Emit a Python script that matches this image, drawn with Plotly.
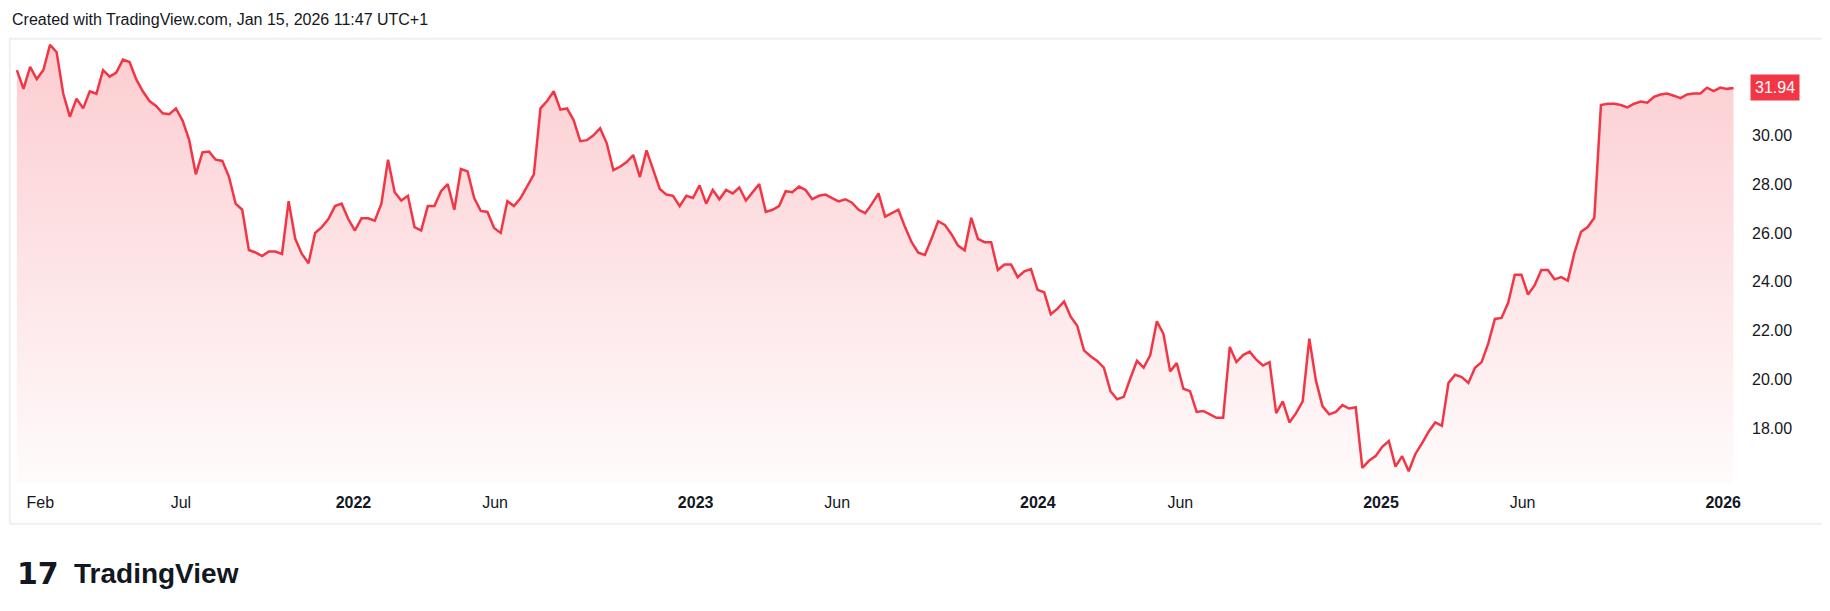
import pandas as pd
import plotly.graph_objects as go

# weekly closes, Jan 2021 .. Jan 2026
values = [
    32.67, 31.9, 32.8, 32.3, 32.67, 33.7, 33.4, 31.7, 30.76, 31.5, 31.1, 31.8, 31.7, 32.67,
    32.4, 32.57, 33.1, 33.0, 32.3, 31.8, 31.4, 31.2, 30.9, 30.86, 31.1, 30.6, 29.8, 28.4,
    29.3, 29.33, 29.0, 28.95, 28.3, 27.2, 26.95, 25.3, 25.2, 25.05, 25.24, 25.24, 25.14,
    27.3, 25.76, 25.14, 24.76, 26.0, 26.24, 26.57, 27.1, 27.2, 26.57, 26.1, 26.6, 26.6,
    26.5, 27.2, 29.0, 27.67, 27.33, 27.52, 26.24, 26.1, 27.1, 27.1, 27.71, 28.0, 26.95,
    28.62, 28.52, 27.43, 26.9, 26.86, 26.2, 26.0, 27.3, 27.1, 27.43, 27.9, 28.4, 31.1,
    31.4, 31.8, 31.05, 31.1, 30.62, 29.76, 29.8, 30.0, 30.29, 29.67, 28.57, 28.71, 28.9,
    29.19, 28.29, 29.38, 28.62, 27.8, 27.57, 27.52, 27.1, 27.52, 27.43, 27.95, 27.2, 27.76,
    27.38, 27.76, 27.62, 27.86, 27.33, 27.67, 28.0, 26.86, 26.95, 27.1, 27.71, 27.67, 27.9,
    27.76, 27.38, 27.52, 27.57, 27.43, 27.29, 27.38, 27.24, 26.95, 26.81, 27.19, 27.62,
    26.67, 26.81, 26.95, 26.24, 25.62, 25.19, 25.1, 25.76, 26.48, 26.33, 25.95, 25.48,
    25.29, 26.62, 25.76, 25.62, 25.62, 24.48, 24.71, 24.71, 24.19, 24.43, 24.52, 23.67,
    23.57, 22.67, 22.9, 23.19, 22.57, 22.19, 21.19, 20.95, 20.76, 20.48, 19.52, 19.19,
    19.29, 20.05, 20.76, 20.48, 21.0, 22.38, 21.86, 20.33, 20.67, 19.62, 19.52, 18.67,
    18.71, 18.57, 18.43, 18.43, 21.33, 20.71, 21.0, 21.14, 20.81, 20.57, 20.71, 18.62,
    19.1, 18.24, 18.62, 19.1, 21.67, 19.95, 18.9, 18.57, 18.67, 18.95, 18.81, 18.86,
    16.38, 16.67, 16.86, 17.24, 17.48, 16.43, 16.86, 16.24, 16.95, 17.38, 17.86, 18.24,
    18.1, 19.86, 20.19, 20.1, 19.86, 20.48, 20.71, 21.48, 22.48, 22.52, 23.14, 24.29,
    24.29, 23.48, 23.86, 24.48, 24.48, 24.1, 24.19, 24.05, 25.19, 26.05, 26.24, 26.62,
    31.24, 31.29, 31.29, 31.24, 31.14, 31.29, 31.38, 31.33, 31.57, 31.67, 31.71, 31.62,
    31.52, 31.67, 31.71, 31.71, 31.95, 31.81, 31.95, 31.9, 31.94,
]
dates = pd.date_range("2021-01-07", "2026-01-12", periods=len(values))
last_price = "31.94"

tick_dates = ["2021-02-01", "2021-07-01", "2022-01-01", "2022-06-01", "2023-01-01",
              "2023-06-01", "2024-01-01", "2024-06-01", "2025-01-01", "2025-06-01", "2026-01-01"]
tick_text = ["Feb", "Jul", "<b>2022</b>", "Jun", "<b>2023</b>", "Jun", "<b>2024</b>", "Jun",
             "<b>2025</b>", "Jun", "<b>2026</b>"]
y_ticks = [18, 20, 22, 24, 26, 28, 30]

RED = "#f23645"
y_lo, y_hi = 15.76, 33.86

fig = go.Figure()
fig.add_trace(go.Scatter(x=dates, y=[y_lo] * len(values), mode="lines",
                         line=dict(width=0), hoverinfo="skip", showlegend=False))
fig.add_trace(go.Scatter(
    x=dates, y=values, mode="lines", fill="tonexty",
    line=dict(color=RED, width=2.5),
    fillgradient=dict(type="vertical",
                      colorscale=[[0, "rgba(242,54,69,0.02)"], [1, "rgba(242,54,69,0.25)"]]),
    showlegend=False,
))

fig.update_layout(
    width=1830, height=611,
    margin=dict(l=7, r=97, t=33, b=136),
    paper_bgcolor="white", plot_bgcolor="white",
    font=dict(family="Liberation Sans", size=16, color="#131722"),
    xaxis=dict(range=["2021-01-05", "2026-01-20"], showgrid=False, zeroline=False,
               tickvals=tick_dates, ticktext=tick_text, ticks="", ticklabelstandoff=8),
    yaxis=dict(range=[y_lo, y_hi], side="right", showgrid=False, zeroline=False,
               tickvals=y_ticks, tickformat=".2f", ticks="", ticklabelstandoff=10),
    shapes=[dict(type="rect", xref="paper", yref="paper", x0=-0.003, x1=1.062,
                 y0=-0.092, y1=1.005, line=dict(color="#eef0f3", width=2))],
    annotations=[
        dict(text="Created with TradingView.com, Jan 15, 2026 11:47 UTC+1",
             xref="paper", yref="paper", x=-0.003, y=1.025, xanchor="left", yanchor="bottom",
             showarrow=False, font=dict(size=16)),
        dict(text=last_price, xref="paper", yref="y", x=1.005, y=31.94, xanchor="left",
             showarrow=False, bgcolor=RED, font=dict(color="white", size=16),
             borderpad=4),
        dict(text="<b>17</b>", xref="paper", yref="paper", x=0.0, y=-0.205,
             xanchor="left", yanchor="middle", showarrow=False,
             font=dict(size=30, family="DejaVu Sans", color="#131722")),
        dict(text="<b>TradingView</b>", xref="paper", yref="paper", x=0.033, y=-0.205,
             xanchor="left", yanchor="middle", showarrow=False,
             font=dict(size=28, family="Liberation Sans", color="#131722")),
    ],
)

fig.write_html("out.html")
